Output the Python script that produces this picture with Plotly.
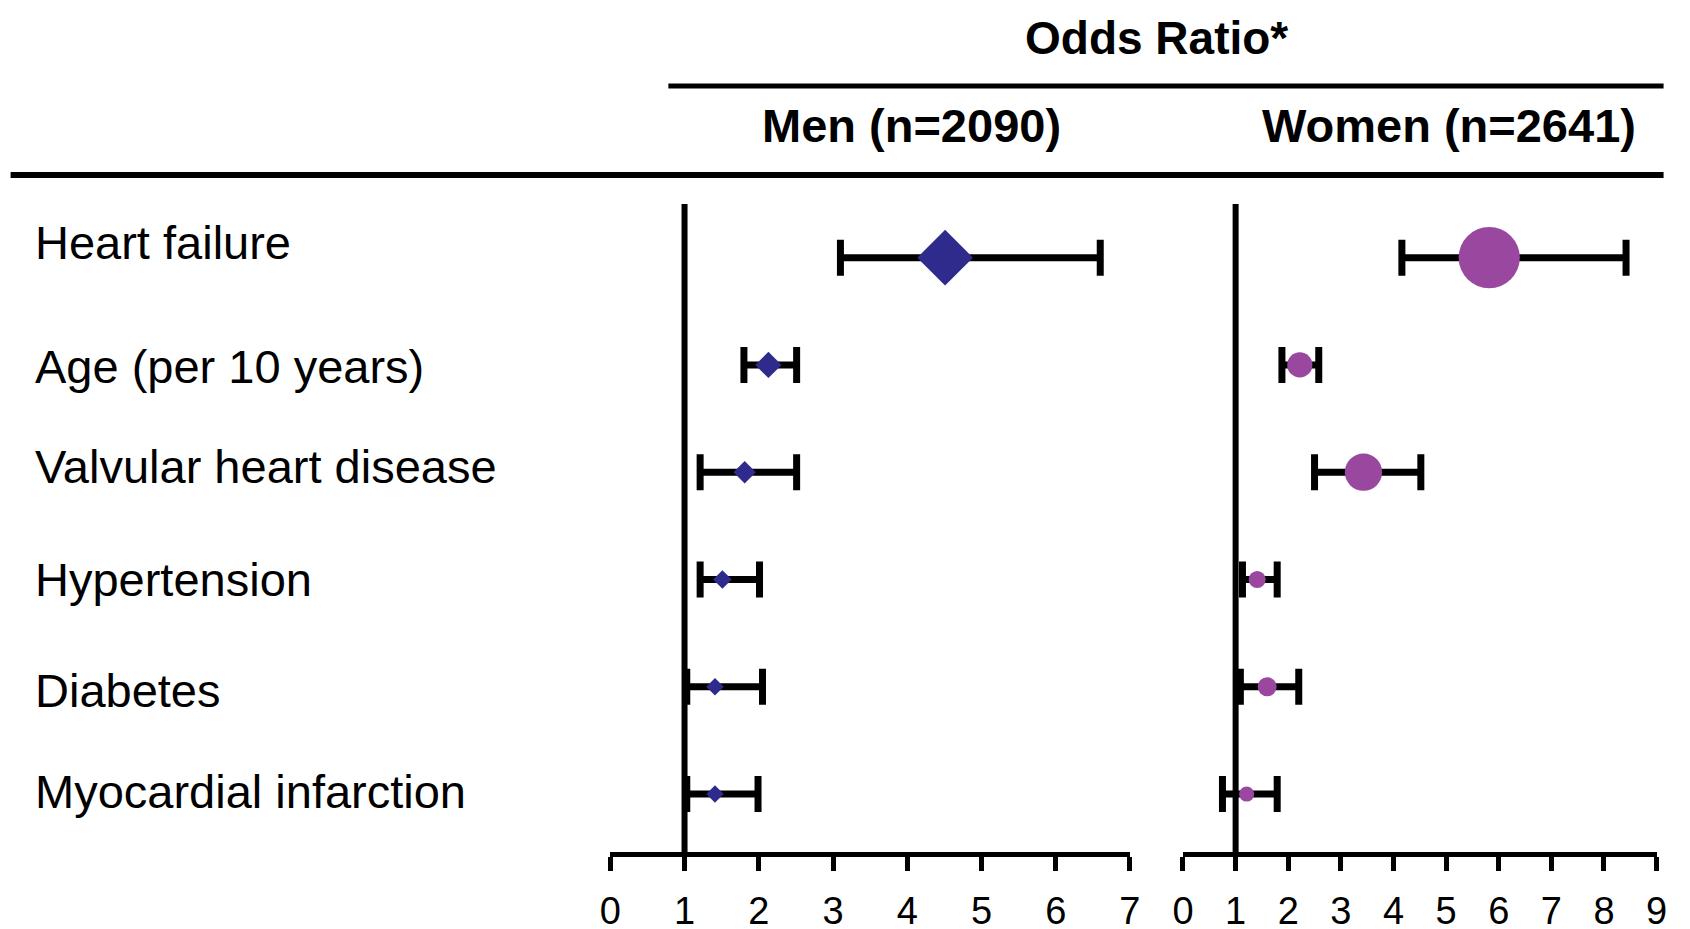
import plotly.graph_objects as go

factors = ["Heart failure", "Age (per 10 years)", "Valvular heart disease",
           "Hypertension", "Diabetes", "Myocardial infarction"]

men_or = [4.51, 2.13, 1.81, 1.51, 1.41, 1.41]
men_lo = [3.10, 1.80, 1.21, 1.21, 1.03, 1.03]
men_hi = [6.60, 2.51, 2.51, 2.01, 2.05, 1.99]

women_or = [5.82, 2.22, 3.43, 1.41, 1.60, 1.21]
women_lo = [4.16, 1.88, 2.50, 1.13, 1.09, 0.75]
women_hi = [8.42, 2.58, 4.52, 1.79, 2.20, 1.79]

men_ticks = [0, 1, 2, 3, 4, 5, 6, 7]
women_ticks = [0, 1, 2, 3, 4, 5, 6, 7, 8, 9]

NAVY = "#2e2b8c"
PURPLE = "#9a47a0"
FONT = "Liberation Sans, Arial, sans-serif"


# page pixel -> paper fraction (the rendered paper sits slightly offset in the page)
def px(x):
    return (x - 19.4) / 1666


def py(y):
    return 1 - (y - 6) / 929


fig = go.Figure()

# men: diamonds, size grows with the odds ratio
fig.add_trace(go.Scatter(
    x=men_or, y=factors, mode="markers", xaxis="x", yaxis="y",
    marker=dict(symbol="diamond", color=NAVY, opacity=1,
                size=[9.5 * v for v in men_or], line=dict(width=0)),
    error_x=dict(type="data", symmetric=False,
                 array=[h - o for h, o in zip(men_hi, men_or)],
                 arrayminus=[o - l for o, l in zip(men_or, men_lo)],
                 color="black", thickness=7, width=18),
    showlegend=False,
))

# women: circles
fig.add_trace(go.Scatter(
    x=women_or, y=factors, mode="markers", xaxis="x2", yaxis="y2",
    marker=dict(symbol="circle", color=PURPLE, opacity=1,
                size=[10 * v + 3 for v in women_or], line=dict(width=0)),
    error_x=dict(type="data", symmetric=False,
                 array=[h - o for h, o in zip(women_hi, women_or)],
                 arrayminus=[o - l for o, l in zip(women_or, women_lo)],
                 color="black", thickness=7, width=18),
    showlegend=False,
))

xcommon = dict(showgrid=False, zeroline=False, showline=True, linecolor="black", linewidth=5,
               ticks="outside", ticklen=14, tickwidth=5, tickcolor="black",
               tickfont=dict(family=FONT, size=38, color="black"), ticklabelstandoff=7)
ycommon = dict(showgrid=False, zeroline=False, showline=False, showticklabels=False,
               type="category", categoryarray=factors, range=[5.54, -0.5],
               domain=[py(850), py(202)])

fig.update_layout(
    width=1690, height=929,
    margin=dict(l=0, r=0, t=0, b=0),
    paper_bgcolor="white", plot_bgcolor="white",
    xaxis=dict(domain=[px(610), px(1129)], range=[0, 7], tickvals=men_ticks, **xcommon),
    xaxis2=dict(domain=[px(1182), px(1655)], range=[0, 9], tickvals=women_ticks, anchor="y2", **xcommon),
    yaxis=dict(anchor="x", **ycommon),
    yaxis2=dict(anchor="x2", **ycommon),
)

# reference lines at OR = 1
for xr, yr in [("x", "y domain"), ("x2", "y2 domain")]:
    fig.add_shape(type="line", xref=xr, yref=yr, x0=1, x1=1, y0=0, y1=1,
                  line=dict(color="black", width=6), layer="below")

# header rules
fig.add_shape(type="line", xref="paper", yref="paper", x0=px(668), x1=px(1662),
              y0=py(84), y1=py(84), line=dict(color="black", width=5))
fig.add_shape(type="line", xref="paper", yref="paper", x0=px(11), x1=px(1662),
              y0=py(173), y1=py(173), line=dict(color="black", width=6))

hdr = dict(family=FONT, size=47, color="black", weight="bold")
fig.add_annotation(text="Odds Ratio*", x=px(1156), y=py(36), xref="paper", yref="paper",
                   showarrow=False, font=dict(hdr, size=46), xanchor="center", yanchor="middle")
fig.add_annotation(text="Men (n=2090)", x=px(911), y=py(123), xref="paper", yref="paper",
                   showarrow=False, font=hdr, xanchor="center", yanchor="middle")
fig.add_annotation(text="Women (n=2641)", x=px(1448), y=py(123), xref="paper", yref="paper",
                   showarrow=False, font=hdr, xanchor="center", yanchor="middle")

# row labels on the left
label_shift = [15, -2, 6, 0, -4, 3]
for name, dy in zip(factors, label_shift):
    fig.add_annotation(text=name, x=px(33), xref="paper", y=name, yref="y", yshift=dy,
                       showarrow=False, xanchor="left", yanchor="middle",
                       font=dict(family=FONT, size=47, color="black"))

fig.write_html("out.html")
